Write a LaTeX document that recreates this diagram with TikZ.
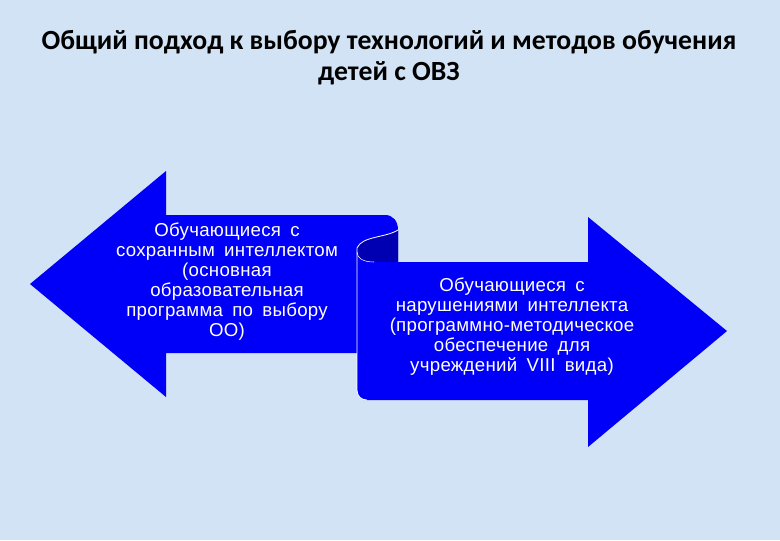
\documentclass[tikz,border=0pt]{standalone}
\usepackage{fontspec}
\setmainfont{Liberation Sans}
\newfontfamily\titlefont{Carlito}
\newfontfamily\arrowfont[LetterSpace=1.5]{Liberation Sans}
\newcommand\widespace{\spaceskip=0.5em plus 0.1em\relax}
\definecolor{bgblue}{RGB}{210,227,245}
\definecolor{arrowblue}{RGB}{0,0,248}
\definecolor{scrollback}{RGB}{0,0,178}

\begin{document}
\begin{tikzpicture}[x=0.75pt,y=-0.75pt,
    titletext/.style={anchor=base, font=\titlefont\bfseries\fontsize{20.8}{22.5}\selectfont},
    arrowtext/.style={text=white, align=center,
        font=\arrowfont\fontsize{14}{15}\selectfont\widespace}]
    % Background
    \fill[bgblue] (0,0) rectangle (780,540);
    % Title
    \node[titletext] (title) at (389,49) {Общий подход к выбору технологий и методов обучения};
    \node[titletext] (titlesub) at (389,80) {детей с ОВЗ};
    % Left arrow
    \fill[arrowblue] (30,284) -- (166,171) -- (166,215) -- (385,215)
        .. controls (393,215) and (398,221) .. (398,230) -- (398,262) -- (357,262)
        -- (357,353) -- (166,353) -- (166,397) -- cycle;
    % Back of the scroll
    \fill[scrollback] (398,230) .. controls (385,238) and (362,236) .. (357,248)
        .. controls (356,256) and (362,262) .. (374,262) -- (398,262) -- cycle;
    % Right arrow
    \fill[arrowblue] (357,252) -- (357,390) .. controls (357,396) and (361,400) .. (367,400)
        -- (588,400) -- (588,447) -- (727,331) -- (588,217) -- (588,262) -- (374,262)
        .. controls (363,262) and (357,258) .. (357,252);
    % Edge of the scroll
    \draw[white, line width=0.6pt] (398,230) .. controls (385,238) and (362,236) .. (357,248)
        -- (357,390) .. controls (357,396) and (361,400) .. (367,400);
    \draw[white, line width=0.4pt] (357,252) .. controls (357,258) and (363,262) .. (374,262);
    % Texts
    \node[arrowtext] (kept) at (227,282)
        {Обучающиеся с\\сохранным интеллектом\\(основная\\образовательная\\программа по выбору\\ОО)};
    \node[arrowtext] (impaired) at (512,327)
        {Обучающиеся с\\нарушениями интеллекта\\(программно-методическое\\обеспечение для\\учреждений VIII вида)};
\end{tikzpicture}
\end{document}
